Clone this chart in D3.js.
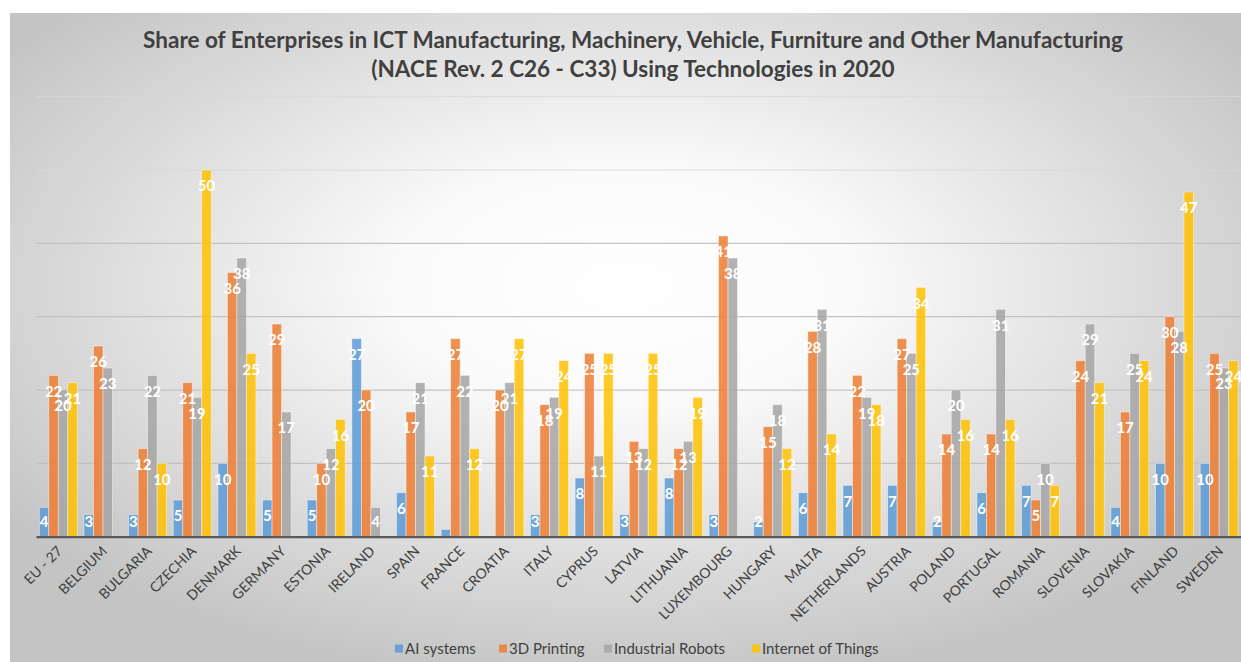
<!DOCTYPE html>
<html>
<head>
<meta charset="utf-8">
<script src="https://cdn.jsdelivr.net/npm/d3@7"></script>
<style>
  body { margin: 0; background: #fff; }
  svg { display: block; font-family: Lato, "Open Sans", sans-serif; }
</style>
</head>
<body>
<div id="chart"></div>
<script>
// data (null = no value published)
var countries = ["EU - 27", "BELGIUM", "BULGARIA", "CZECHIA", "DENMARK", "GERMANY", "ESTONIA",
  "IRELAND", "SPAIN", "FRANCE", "CROATIA", "ITALY", "CYPRUS", "LATVIA", "LITHUANIA",
  "LUXEMBOURG", "HUNGARY", "MALTA", "NETHERLANDS", "AUSTRIA", "POLAND", "PORTUGAL",
  "ROMANIA", "SLOVENIA", "SLOVAKIA", "FINLAND", "SWEDEN"];

var aiSystems   = [4, 3, 3, 5, 10, 5, 5, 27, 6, 1, null, 3, 8, 3, 8, 3, 2, 6, 7, 7, 2, 6, 7, null, 4, 10, 10];
var printing3d  = [22, 26, 12, 21, 36, 29, 10, 20, 17, 27, 20, 18, 25, 13, 12, 41, 15, 28, 22, 27, 14, 14, 5, 24, 17, 30, 25];
var robots      = [20, 23, 22, 19, 38, 17, 12, 4, 21, 22, 21, 19, 11, 12, 13, 38, 18, 31, 19, 25, 20, 31, 10, 29, 25, 28, 23];
var iot         = [21, null, 10, 50, 25, null, 16, null, 11, 12, 27, 24, 25, 25, 19, null, 12, 14, 18, 34, 16, 16, 7, 21, 24, 47, 24];

var seriesNames = ["AI systems", "3D Printing", "Industrial Robots", "Internet of Things"];
var gridTicks = [0, 10, 20, 30, 40, 50, 60];

var colors = ["#5b9bd5", "#ed7d31", "#a5a5a5", "#ffc000"];
var allSeries = [aiSystems, printing3d, robots, iot];

var W = 1241, H = 662;
var svg = d3.select("#chart").append("svg")
  .attr("width", W)
  .attr("height", H);

// chart area background
var defs = svg.append("defs");
var grad = defs.append("radialGradient")
  .attr("id", "bg")
  .attr("cx", "50%").attr("cy", "42%").attr("r", "62%");
grad.append("stop").attr("offset", "0").attr("stop-color", "#ffffff");
grad.append("stop").attr("offset", "0.3").attr("stop-color", "#fafafa");
grad.append("stop").attr("offset", "1").attr("stop-color", "#c4c4c4");

svg.append("rect")
  .attr("x", 10).attr("y", 13)
  .attr("width", W - 10).attr("height", H - 13)
  .attr("fill", "url(#bg)");

// title
var title = svg.append("text")
  .attr("x", 633)
  .attr("text-anchor", "middle")
  .attr("font-weight", "bold")
  .attr("font-size", 22.5)
  .attr("fill", "#404040");
title.append("tspan").attr("x", 633).attr("y", 48)
  .text("Share of Enterprises in ICT Manufacturing, Machinery, Vehicle, Furniture and Other Manufacturing");
title.append("tspan").attr("x", 633).attr("y", 77)
  .text("(NACE Rev. 2 C26 - C33) Using Technologies in 2020");

// scales
var x0 = d3.scaleBand()
  .domain(countries)
  .range([36, 1241.5])
  .paddingInner(0.15)
  .paddingOuter(0.075);

var x1 = d3.scaleBand()
  .domain(d3.range(4))
  .range([0, x0.bandwidth()]);

var y = d3.scaleLinear()
  .domain([0, 60])
  .range([536.7, 96.7]);

// gridlines
svg.append("g")
  .selectAll("line")
  .data(gridTicks.filter(function (d) { return d > 0; }))
  .enter()
  .append("line")
    .attr("x1", 36)
    .attr("x2", W)
    .attr("y1", function (d) { return y(d); })
    .attr("y2", function (d) { return y(d); })
    .attr("stroke", function (d) { return d >= 50 ? "#d9d9d9" : "#bfbfbf"; })
    .attr("stroke-opacity", function (d) { return d >= 50 ? 0.7 : 0.9; })
    .attr("stroke-width", 1.2);

// bars
var rows = [];
countries.forEach(function (c, i) {
  allSeries.forEach(function (s, k) {
    if (s[i] != null) rows.push({ country: c, k: k, value: s[i] });
  });
});

svg.append("g")
  .selectAll("rect")
  .data(rows)
  .enter()
  .append("rect")
    .attr("x", function (d) { return x0(d.country) + x1(d.k); })
    .attr("y", function (d) { return y(d.value); })
    .attr("width", x1.bandwidth())
    .attr("height", function (d) { return y(0) - y(d.value); })
    .attr("fill", function (d) { return colors[d.k]; })
    .attr("fill-opacity", 0.85)
    .attr("stroke", "#ffffff")
    .attr("stroke-opacity", 0.5)
    .attr("stroke-width", 0.8);

// axis line
var xAxis = svg.append("g")
  .attr("transform", "translate(0," + y(0) + ")")
  .call(d3.axisBottom(x0).tickSize(0).tickFormat(""));
xAxis.select(".domain")
  .attr("stroke", "#595959")
  .attr("stroke-width", 2.2);

// value labels (inside end, kept above the axis)
svg.append("g")
  .selectAll("text")
  .data(rows.filter(function (d) { return d.value >= 2; }))
  .enter()
  .append("text")
    .attr("x", function (d) { return x0(d.country) + x1(d.k) + x1.bandwidth() / 2; })
    .attr("y", function (d) { return Math.min(y(d.value) + 16, 522); })
    .attr("dy", "0.36em")
    .attr("text-anchor", "middle")
    .attr("font-weight", "bold")
    .attr("font-size", 15)
    .attr("fill", "#ffffff")
    .text(function (d) { return d.value; });

// category labels
svg.append("g")
  .selectAll("text")
  .data(countries)
  .enter()
  .append("text")
    .attr("transform", function (d) {
      return "translate(" + (x0(d) + x0.bandwidth() / 2 + 5) + ",552) rotate(-45)";
    })
    .attr("text-anchor", "end")
    .attr("font-size", 14)
    .attr("fill", "#404040")
    .text(function (d) { return d; });

// legend
var legendX = [395, 499, 604, 752];
var legend = svg.append("g")
  .selectAll("g")
  .data(seriesNames)
  .enter()
  .append("g")
    .attr("transform", function (d, i) { return "translate(" + legendX[i] + ",649)"; });
legend.append("rect")
  .attr("x", 0).attr("y", -4.5)
  .attr("width", 8).attr("height", 8)
  .attr("fill", function (d, i) { return colors[i]; })
  .attr("fill-opacity", 0.88);
legend.append("text")
  .attr("x", 10)
  .attr("dy", "0.35em")
  .attr("font-size", 15)
  .attr("fill", "#404040")
  .text(function (d) { return d; });
</script>
</body>
</html>
